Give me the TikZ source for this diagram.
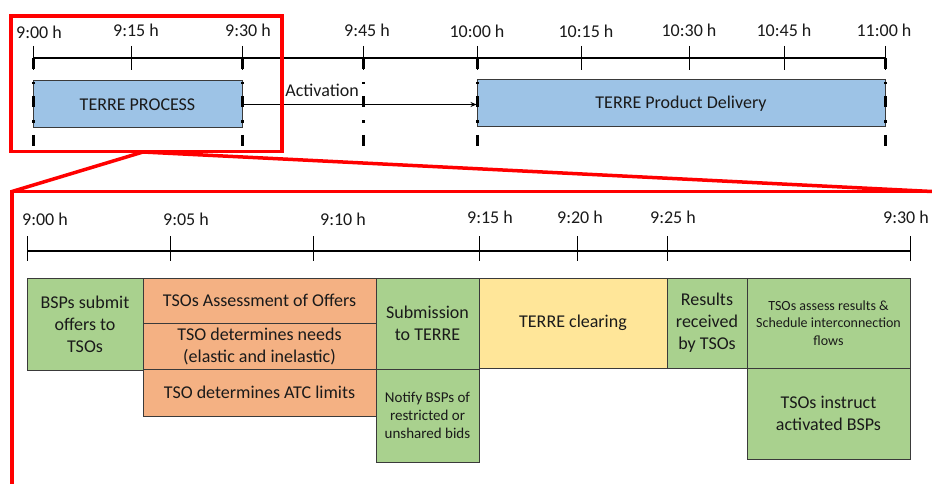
\documentclass[tikz,border=0pt]{standalone}
\usepackage{fontspec}
\setmainfont{Carlito}
\usetikzlibrary{arrows.meta}
\definecolor{bblue}{HTML}{9DC3E6}
\definecolor{bgreen}{HTML}{A9D18E}
\definecolor{borange}{HTML}{F4B183}
\definecolor{byellow}{HTML}{FFE699}
\definecolor{boxline}{HTML}{3A3A3A}
\definecolor{textc}{HTML}{1A1A1A}
\definecolor{redc}{HTML}{FF0000}
\newcommand{\tbox}[7]{\node[#2, minimum width={(#5-#3)*1pt}, minimum height={(#6-#4)*1pt}] (#1) at ({(#3+#5)/2},{(#4+#6)/2}) {#7};}
\tikzset{
  boxbase/.style={draw=boxline, line width=1pt, inner sep=1pt, align=center, text=textc, font=\fontsize{18}{22}\selectfont},
  gbox/.style={boxbase, fill=bgreen},
  obox/.style={boxbase, fill=borange},
  ybox/.style={boxbase, fill=byellow},
  bbox/.style={boxbase, fill=bblue},
  tlabel/.style={font=\fontsize{18}{22}\selectfont, inner sep=0pt, text=textc},
  axisline/.style={line width=1.5pt, draw=black},
  tickline/.style={line width=0.9pt, draw=black},
  dashdotline/.style={line width=3pt, draw=black, dash pattern=on 11pt off 13pt on 2.5pt off 12pt},
  redline/.style={draw=redc, line width=3.5pt},
}
\begin{document}
\begin{tikzpicture}[x=1pt, y=-1pt]
\useasboundingbox[fill=white] (0,0) rectangle (932,484);

% ---------- top timeline ----------
\foreach \n/\x in {a0/33, a1/131, a2/242, a3/363, a4/477, a5/581, a6/689, a7/784, a8/885}{
  \coordinate (\n) at (\x,58);
  \coordinate (\n t) at (\x,46);
  \coordinate (\n b) at (\x,70);
  \coordinate (\n d) at (\x,146);
}
\draw[axisline] (a0) -- (a8);
\foreach \n in {a0,a1,a2,a3,a4,a5,a6,a7,a8}{ \draw[tickline] (\n t) -- (\n b); }

\node[tlabel] (L900) at (39,32) {9:00 h};
\node[tlabel] (L915) at (136,30) {9:15 h};
\node[tlabel] (L930) at (248,30) {9:30 h};
\node[tlabel] (L945) at (367,30) {9:45 h};
\node[tlabel] (L1000) at (477,31) {10:00 h};
\node[tlabel] (L1015) at (586,31) {10:15 h};
\node[tlabel] (L1030) at (689,30) {10:30 h};
\node[tlabel] (L1045) at (784,30) {10:45 h};
\node[tlabel] (L1100) at (884,30) {11:00 h};

\tbox{proc}{bbox}{33}{81}{242}{128}{TERRE PROCESS}
\tbox{deliv}{bbox}{477}{80}{885}{127}{TERRE Product Delivery}

\draw[line width=1.3pt, -{Stealth[length=6pt, width=5pt]}] (proc.east) -- (proc.east -| deliv.west)
  node[tlabel, pos=0.34, above=7pt] (act) {Activation};

\foreach \n in {a0,a2,a3,a4,a8}{ \draw[dashdotline] (\n) -- (\n d); }

% ---------- zoom frame ----------
\draw[redline] (11,16) rectangle (282,151.5);
\coordinate (zp) at (143,152);
\coordinate (zl) at (12,191.5);
\coordinate (zr) at (932,191.5);
\coordinate (zb) at (12,484);
\draw[redline] (zp) -- (zl);
\draw[redline] (zp) -- (zr);
\draw[redline, line cap=rect] (zb) -- (zl) -- (zr);

% ---------- bottom timeline ----------
\foreach \n/\x in {b0/27, b1/170, b2/313, b3/479, b4/577, b5/667, b6/910}{
  \coordinate (\n) at (\x,251);
  \coordinate (\n t) at (\x,236);
  \coordinate (\n b) at (\x,261);
}
\draw[axisline] (b0) -- (b6);
\foreach \n in {b0,b1,b2,b3,b4,b5,b6}{ \draw[tickline] (\n t) -- (\n b); }

\node[tlabel] (M900) at (45,219) {9:00 h};
\node[tlabel] (M905) at (186,219) {9:05 h};
\node[tlabel] (M910) at (343,219) {9:10 h};
\node[tlabel] (M915) at (490,217) {9:15 h};
\node[tlabel] (M920) at (580,217) {9:20 h};
\node[tlabel] (M925) at (673,217) {9:25 h};
\node[tlabel] (M930) at (906,217) {9:30 h};

% ---------- activity boxes ----------
\tbox{bsp}{gbox}{27}{278}{143}{370}{BSPs submit\\offers to\\TSOs}
\tbox{assess}{obox}{143}{278}{376}{323}{TSOs Assessment of Offers}
\tbox{needs}{obox}{143}{323}{376}{369}{TSO determines needs\\(elastic and inelastic)}
\tbox{atc}{obox}{143}{369}{376}{416}{TSO determines ATC limits}
\tbox{sub}{gbox}{376}{278}{479}{369}{Submission\\to TERRE}
\tbox{notify}{gbox, font=\fontsize{15}{18}\selectfont}{376}{369}{479}{462}{Notify BSPs of\\restricted or\\unshared bids}
\tbox{clear}{ybox}{479}{278}{667}{368}{TERRE clearing}
\tbox{res}{gbox}{667}{278}{747}{368}{Results\\received\\by TSOs}
\tbox{tsoass}{gbox, font=\fontsize{14}{17.5}\selectfont}{747}{278}{910}{368}{TSOs assess results \&\\Schedule interconnection\\flows}
\tbox{instr}{gbox}{747}{368}{910}{459}{TSOs instruct\\activated BSPs}
\end{tikzpicture}
\end{document}
